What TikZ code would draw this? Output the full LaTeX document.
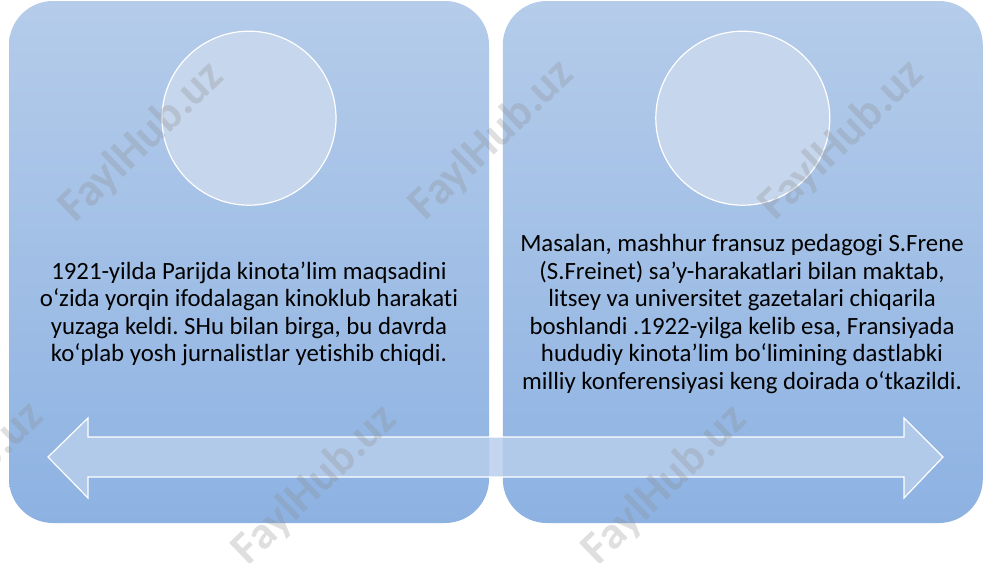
\documentclass[tikz,border=0pt]{standalone}
\usepackage{fontspec}
\setmainfont{Carlito}[Ligatures=NoCommon]
\usetikzlibrary{positioning}

\definecolor{cardtop}{RGB}{181,204,234}
\definecolor{cardbot}{RGB}{141,178,226}
\definecolor{discfill}{RGB}{198,214,236}
\definecolor{arrowfill}{RGB}{184,206,236}

\tikzset{
    card/.style={rectangle, rounded corners=22pt, minimum width=240pt, minimum height=261pt,
        top color=cardtop, bottom color=cardbot, inner sep=0pt},
    disc/.style={circle, minimum size=87pt, inner sep=0pt, fill=discfill, draw=white, line width=0.6pt},
    blurb/.style={align=center, font=\frenchspacing\fontsize{12.4}{13.75}\selectfont},
    wmark/.style={rotate=44, text=black!45, opacity=0.28, font=\bfseries\fontsize{23}{23}\selectfont}
}

\begin{document}
\begin{tikzpicture}[x=0.5pt, y=-0.5pt]
    \useasboundingbox (0,0) rectangle (1000,562);
    \node[card] (cardL) at (249,262) {};
    \node[card] (cardR)[right=6.5pt of cardL] {};
    \node[disc] (discL)[below=15pt of cardL.north] {};
    \node[disc] (discR)[below=15pt of cardR.north] {};
    \node[blurb] (textL) at (249,314) {1921-yilda Parijda kinota’lim maqsadini\\
        o‘zida yorqin ifodalagan kinoklub harakati\\
        yuzaga keldi. SHu bilan birga, bu davrda\\
        ko‘plab yosh jurnalistlar yetishib chiqdi.};
    \node[blurb] (textR) at (742,314) {Masalan, mashhur fransuz pedagogi S.Frene\\
        (S.Freinet) sa’y-harakatlari bilan maktab,\\
        litsey va universitet gazetalari chiqarila\\
        boshlandi .1922-yilga kelib esa, Fransiyada\\
        hududiy kinota’lim bo‘limining dastlabki\\
        milliy konferensiyasi keng doirada o‘tkazildi.};
    % timeline arrow
    \draw[white, line width=0.6pt, fill=arrowfill, fill opacity=0.85]
        (48,457) -- (88,418) -- (88,437) -- (904,437) -- (904,418) -- (943,457)
        -- (904,498) -- (904,477) -- (88,477) -- (88,498) -- cycle;
    \foreach \x/\y [count=\i] in {142/142, 492/140, 842/140, -38/482, 315/485, 665/485}
        \node[wmark] (wm\i) at (\x,\y) {FaylHub.uz};
\end{tikzpicture}
\end{document}
